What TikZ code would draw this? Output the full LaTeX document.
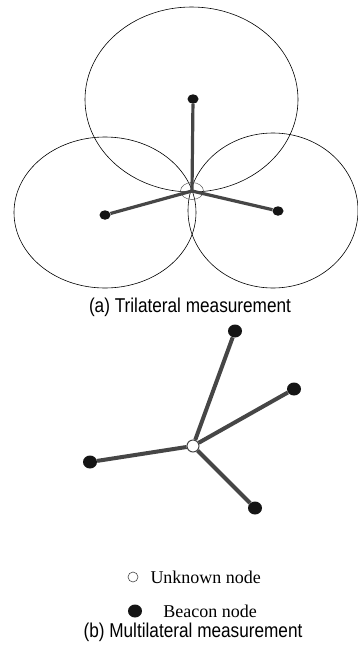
\documentclass[tikz,border=0pt]{standalone}
\usepackage{fontspec}
\setmainfont{Liberation Serif}
\newfontfamily\capfont[FakeStretch=0.86]{Liberation Sans}
\usepackage{tikz}
\usetikzlibrary{positioning, shapes.geometric}
\definecolor{mlink}{HTML}{464646}
\definecolor{mdot}{HTML}{151515}
\definecolor{mring}{HTML}{555555}
\tikzset{
  beacon/.style={ellipse, fill=mdot, inner sep=0pt, minimum width=11pt, minimum height=9.5pt},
  bigbeacon/.style={beacon, minimum width=14pt, minimum height=13pt},
  unknown/.style={circle, draw=mlink, fill=white, line width=1pt, inner sep=0pt, minimum size=12pt},
  ringline/.style={draw=black, line width=0.6pt},
  link/.style={mlink, line width=3.2pt},
  blink/.style={mlink, line width=4pt},
  caption/.style={font=\capfont\fontsize{20}{22}\selectfont, inner sep=0pt},
  legend/.style={font=\fontsize{18}{20}\selectfont, anchor=west, inner sep=0pt},
}

\begin{document}
\begin{tikzpicture}[x=1pt, y=-1pt]
  \useasboundingbox (0,0) rectangle (358,648);

  %% (a) Trilateral measurement
  \coordinate (u) at (192,191);
  \node[beacon] (b1) at (193,99) {};
  \node[beacon] (b2) at (105,215) {};
  \node[beacon] (b3) at (278,211) {};
  % ranging circles
  \draw[ringline] (191.5,99.5) ellipse (106.5pt and 92.5pt);
  \draw[ringline] (105,212.5) ellipse (91pt and 75.5pt);
  \draw[ringline] (273,210.5) ellipse (85pt and 77.5pt);
  \draw[ringline, mring, line width=0.5pt] (u) ellipse (11.5pt and 8.5pt);
  % distances
  \draw[link] (u) -- (b1);
  \draw[link] (u) -- (b2);
  \draw[link] (u) -- (b3);
  \node[caption] (capa) at (190,307) {(a) Trilateral measurement};

  %% (b) Multilateral measurement
  \node[unknown] (u2) at (193,446) {};
  \node[bigbeacon] (m1) at (235,331) {};
  \node[bigbeacon] (m2) at (294,389) {};
  \node[bigbeacon] (m3) at (90,462) {};
  \node[bigbeacon] (m4) at (255,508) {};
  \foreach \m in {m1,m2,m3,m4}
    \draw[blink] (u2) -- (\m);

  % legend
  \node[unknown, minimum size=10pt, line width=0.6pt] (lu) at (133,577) {};
  \node[legend, right=12pt of lu] (lut) {Unknown node};
  \node[bigbeacon] (lb) at (135,611) {};
  \node[legend, right=21pt of lb] (lbt) {Beacon node};
  \node[caption] (capb) at (193,632) {(b) Multilateral measurement};
\end{tikzpicture}
\end{document}
